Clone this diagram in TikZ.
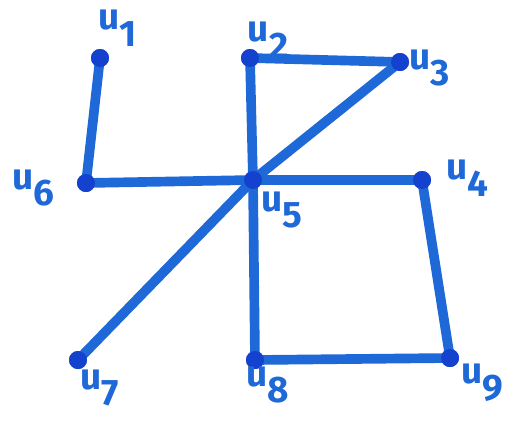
\documentclass[tikz,border=0pt]{standalone}
\usepackage{fontspec}
\setmainfont{Fira Sans}
\definecolor{edgeblue}{RGB}{30,105,215}
\definecolor{dotblue}{RGB}{20,65,205}
\newcommand{\ulab}[1]{u\raisebox{-0.45em}{#1}}
\begin{document}
\begin{tikzpicture}[x=0.02cm,y=-0.02cm,
  vert/.style={circle,fill=dotblue,inner sep=0pt,minimum size=0.36cm},
  edge/.style={draw=edgeblue,line width=5.5pt,line cap=round},
  lbl/.style={text=edgeblue,font=\fontsize{21}{23}\selectfont\bfseries,inner sep=0pt}]
\useasboundingbox (0,0) rectangle (517,444);
\node[vert] (u1) at (100,58) {};
\node[vert] (u2) at (250,58) {};
\node[vert] (u3) at (400,62) {};
\node[vert] (u4) at (422,180) {};
\node[vert] (u5) at (253,180) {};
\node[vert] (u6) at (86,183) {};
\node[vert] (u7) at (78,360) {};
\node[vert] (u8) at (255,360) {};
\node[vert] (u9) at (450,358) {};
\draw[edge] (u1.center) -- (u6.center);
\draw[edge] (u6.center) -- (u5.center);
\draw[edge] (u5.center) -- (u4.center);
\draw[edge] (u4.center) -- (u9.center);
\draw[edge] (u9.center) -- (u8.center);
\draw[edge] (u8.center) -- (u5.center);
\draw[edge] (u5.center) -- (u2.center);
\draw[edge] (u2.center) -- (u3.center);
\draw[edge] (u3.center) -- (u5.center);
\draw[edge] (u5.center) -- (u7.center);
\foreach \v in {u1,u2,u3,u4,u5,u6,u7,u8,u9}{\fill[dotblue] (\v) circle (0.18cm);}
\node[lbl] (l1) at (118,28) {\ulab{1}};
\node[lbl] (l2) at (268,40) {\ulab{2}};
\node[lbl] (l3) at (430,68) {\ulab{3}};
\node[lbl] (l4) at (467,178) {\ulab{4}};
\node[lbl] (l5) at (282,210) {\ulab{5}};
\node[lbl] (l6) at (33,188) {\ulab{6}};
\node[lbl] (l7) at (100,388) {\ulab{7}};
\node[lbl] (l8) at (268,385) {\ulab{8}};
\node[lbl] (l9) at (482,383) {\ulab{9}};
\end{tikzpicture}
\end{document}
